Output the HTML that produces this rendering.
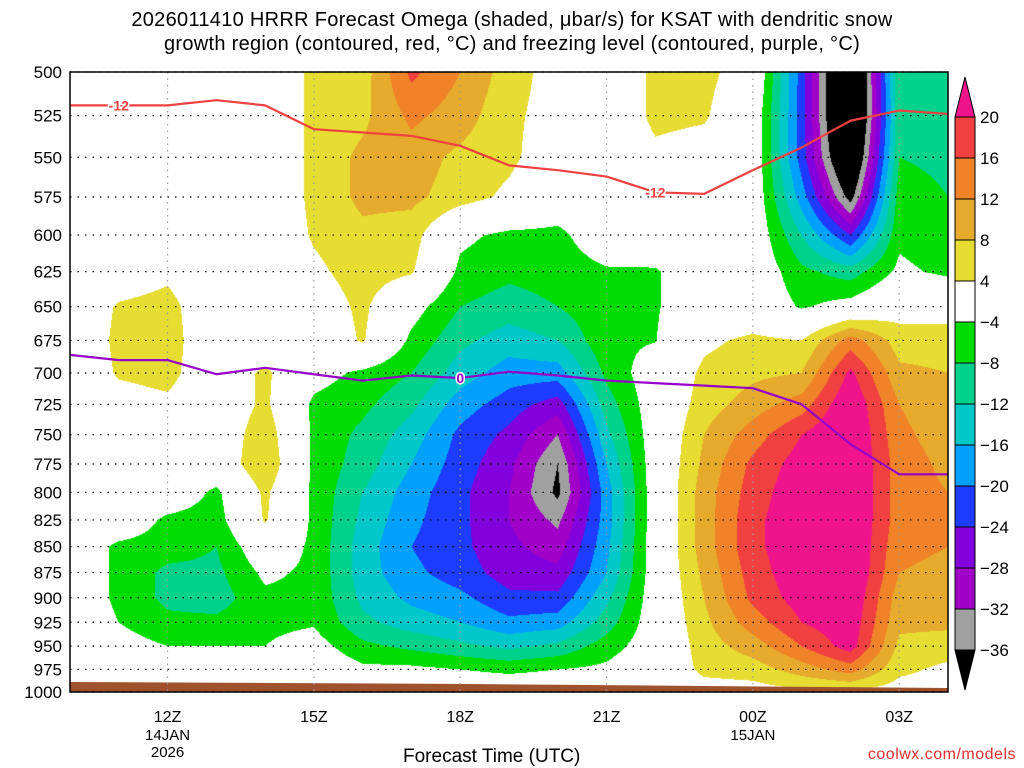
<!DOCTYPE html>
<html><head><meta charset="utf-8">
<style>
body{margin:0;background:#fff;width:1024px;height:768px;overflow:hidden;position:relative;font-family:"Liberation Sans",sans-serif;}
.t{position:absolute;white-space:nowrap;color:#000;}
</style></head>
<body>
<div class="t" style="left:0;width:1024px;text-align:center;top:8px;font-size:20px;line-height:24px;letter-spacing:0.3px">2026011410 HRRR Forecast Omega (shaded, μbar/s) for KSAT with dendritic snow<br>growth region (contoured, red, °C) and freezing level (contoured, purple, °C)</div>
<canvas id="c" width="1024" height="768" style="position:absolute;left:0;top:0"></canvas>
<svg id="s" width="1024" height="768" style="position:absolute;left:0;top:0"></svg>
<script>
const hours=[10,11,12,13,14,15,16,17,18,19,20,21,22,23,24,25,26,27,28];
const timeTicks=[12,15,18,21,24,27];
const timeTickLabels=["12Z","15Z","18Z","21Z","00Z","03Z"];
const pressures=[500,525,550,575,600,625,650,675,700,725,750,775,800,825,850,875,900,925,950,975,1000];
const levels=[-36,-32,-28,-24,-20,-16,-12,-8,-4,4,8,12,16,20];
const levelColors=["#000000","#a0a0a0","#a000c8","#8200dc","#1e3cff","#00a0ff","#00c8c8","#00d28c","#00dc00","#ffffff","#e6dc32","#e6aa2d","#f08228","#f04040","#f0148c"];
const colorbarLabels=["20","16","12","8","4","−4","−8","−12","−16","−20","−24","−28","−32","−36"];
// omega by hour (rows = pressures 500..1000)
const h10=[0,0,0,0,0,0,0,0,0,0,0,0,0,0,0,0,0,0,0,0,0];
const h11=[0,0,0,0,0,1,4.5,5,4.5,2,0,0,0,0,-5,-5,-5,-4,-2,0,0];
const h12=[0,0,0,0,0,3,5.5,6,5.5,3,0,0,0,-5,-6,-9,-9,-7,-4,0,0];
const h13=[0,0,0,0,0,0,0,0,0,0,0,0,-5,-6,-8,-9,-10,-7,-4,0,0];
const h14=[0,0,0,0,0,0,0,0,5,5,7,8,5,4.5,0,-3,-5,-5,-4,0,0];
const h15=[5,5,5,5,4.5,3,1,0,-2,-5,-5,-5,-5,-5,-5,-5,-5,-4.5,-2,0,0];
const h16=[6,7,9,9,7,6,5,4.5,-5,-7,-9,-10,-12,-13,-14,-14,-13,-11,-7,-3,0];
const h17=[17,13,10,9,6,4.5,-2,-5,-8,-11,-14,-16,-18,-19,-20,-19,-17,-14,-9,-3,0];
const h18=[12,10,7,6,-3,-5,-8,-11,-14,-18,-21,-22,-23,-23,-23,-22,-19,-16,-11,-4,0];
const h19=[6,5,5,3,-5,-7,-10,-14,-18,-22,-25,-27,-28,-28,-27,-26,-23,-19,-13,-5,0];
const h20=[2,2,1,-1,-5,-6,-8,-12,-18,-26,-32,-36,-37,-33,-30,-27,-23,-18,-11,-4,0];
const h21=[0,0,0,0,-1,-4.5,-5,-5,-7,-10,-13,-16,-18,-18,-17,-16,-13,-10,-6,-3,0];
const h22=[5,5,3,1,0,-4.5,-4.5,-4.2,-1,-1,-1,-1,-1,-1,-1,-1,-1,-1,-1,0,0];
const h23=[5,4.5,2,0,0,0,0,3,5,6,8,9,10,10,10,9,8,7,6,5,2];
const h00=[2,0,0,0,0,0,0,5,7,10,14,17,18,19,19,18,17,14,10,6,2];
const h01=[-22,-22,-22,-18,-12,-7,-4.5,4,8,14,20,22,23,23,23,23,22,20,16,10,3];
const h02=[-50,-50,-46,-38,-24,-10,-2,14,21,24,25,25,25,25,25,25,24,23,22,14,3];
const h03=[-8,-9,-8,-6,-5,-3,2,6,9,12,13,14,14,14,13,12,10,9,7,5,2];
const h04=[-9,-9,-9,-8,-7,-5,2,6,8,9,10,11,12,12,12,11,10,9,6,3,2];
const omega=[h10,h11,h12,h13,h14,h15,h16,h17,h18,h19,h20,h21,h22,h23,h00,h01,h02,h03,h04];
const snowLine=[519,519,519,516,519,533,535,537,543,555,558,562,572,573,558,544,528,522,524];
const freezeLine=[686,690,690,701,696,701,706,702,704,699,702,706,708,710,712,725,758,784,784];

const X0=70,X1=948,Y0=72,Y1=692;
const xS=h=>X0+(h-hours[0])/(hours[hours.length-1]-hours[0])*(X1-X0);
const yS=p=>Y0+(Y1-Y0)*Math.log(p/500)/Math.log(2);
const invX=x=>hours[0]+(x-X0)/(X1-X0)*(hours[hours.length-1]-hours[0]);
const invY=y=>500*Math.pow(2,(y-Y0)/(Y1-Y0));
function hex(c){return [parseInt(c.substr(1,2),16),parseInt(c.substr(3,2),16),parseInt(c.substr(5,2),16)];}
const rgb=levelColors.map(hex);
function colorIdx(v){let i=0;while(i<levels.length&&v>=levels[i])i++;return i;}
const cv=document.getElementById('c'),ctx=cv.getContext('2d');
const W=X1-X0,H=Y1-Y0,img=ctx.createImageData(W,H);
for(let py=0;py<H;py++){
  const p=invY(Y0+py+0.5);
  let r=0;while(r<pressures.length-2&&p>pressures[r+1])r++;
  const fy=Math.min(1,Math.max(0,(p-pressures[r])/(pressures[r+1]-pressures[r])));
  for(let px=0;px<W;px++){
    const h=invX(X0+px+0.5);
    let c=Math.min(hours.length-2,Math.max(0,Math.floor(h-hours[0])));
    const fx=Math.min(1,Math.max(0,h-hours[c]));
    const v=(omega[c][r]*(1-fx)+omega[c+1][r]*fx)*(1-fy)+(omega[c][r+1]*(1-fx)+omega[c+1][r+1]*fx)*fy;
    const col=rgb[colorIdx(v)],k=(py*W+px)*4;
    img.data[k]=col[0];img.data[k+1]=col[1];img.data[k+2]=col[2];img.data[k+3]=255;
  }
}
ctx.putImageData(img,X0,Y0);
const S=document.getElementById('s'),NS='http://www.w3.org/2000/svg';
function mk(t,a,txt){const e=document.createElementNS(NS,t);for(const k in a)e.setAttribute(k,a[k]);if(txt!==undefined)e.textContent=txt;S.appendChild(e);return e;}
// ground
let g=mk('polygon',{points:`${X0},682 ${X0+400},684 ${X1},688 ${X1},${Y1} ${X0},${Y1}`,fill:'#a0522d'});


// grid
pressures.forEach(p=>{
  const l=mk('line',{x1:X0,x2:X1,y1:yS(p),y2:yS(p),stroke:'#000','stroke-width':1.2,'stroke-dasharray':'1.5 6'});
  
  
  const t=mk('text',{x:62,y:yS(p)+6,'text-anchor':'end','font-size':17,'font-family':'Liberation Sans, sans-serif'},String(p));
  
  
});
timeTicks.forEach((h,i)=>{
  const l=mk('line',{x1:xS(h),x2:xS(h),y1:Y0,y2:Y1,stroke:'#999','stroke-width':1.2,'stroke-dasharray':'1.5 5'});
  
  
  const t=mk('text',{x:xS(h),y:722,'text-anchor':'middle','font-size':16,'font-family':'Liberation Sans, sans-serif'},timeTickLabels[i]);
  
  
});
[[12,740,'14JAN'],[12,757,'2026'],[24,740,'15JAN']].forEach(d=>{
  const t=mk('text',{x:xS(d[0]),y:d[1],'text-anchor':'middle','font-size':15,'font-family':'Liberation Sans, sans-serif'},d[2]);
  
  
});
function line(arr,color,name){
  const pts=arr.map((p,i)=>xS(hours[i])+','+yS(p)).join(' ');
  const e=mk('polyline',{points:pts,fill:'none',stroke:color,'stroke-width':2.2,'stroke-linejoin':'round'});
  
  
}
line(snowLine,'#f04040','dgz-minus12-contour');
line(freezeLine,'#9600c8','freezing-level-contour');
[[11,snowLine[1],'-12','#f04040'],[22,snowLine[12],'-12','#f04040'],[18,freezeLine[8],'0','#9600c8']].forEach(d=>{
  const x=xS(d[0]),y=yS(d[1]);
  const t=mk('text',{x:x,y:y+5,'text-anchor':'middle','font-size':14,'font-weight':'bold',fill:d[3],stroke:'#fff','stroke-width':3,'paint-order':'stroke','font-family':'Liberation Sans, sans-serif'},d[2]);
  
  
});
const fr=mk('rect',{x:X0,y:Y0,width:W,height:H,fill:'none',stroke:'#000','stroke-width':1.5});


// colorbar
const CX=955,CW=20,CT=117,STEP=41;
const n=levelColors.length;
for(let i=n-2;i>=1;i--){
  const y=CT+(n-2-i)*STEP;
  const r=mk('rect',{x:CX,y:y,width:CW,height:STEP,fill:levelColors[i],stroke:'#000','stroke-width':1});
  
  
}
let tr=mk('polygon',{points:`${CX},${CT} ${CX+CW},${CT} ${CX+CW/2},77`,fill:levelColors[n-1],stroke:'#000'});


const CB=CT+(n-2)*STEP;
tr=mk('polygon',{points:`${CX},${CB} ${CX+CW},${CB} ${CX+CW/2},690`,fill:levelColors[0],stroke:'#000'});


colorbarLabels.forEach((s,i)=>{
  const t=mk('text',{x:980,y:CT+i*STEP+6,'font-size':17,'font-family':'Liberation Sans, sans-serif'},s);
  
  
});
</script>
<div class="t" style="left:403px;top:746px;font-size:19px">Forecast Time (UTC)</div>
<div class="t" style="right:8px;top:746px;font-size:16px;color:#e03030;letter-spacing:0.5px">coolwx.com/models</div>
</body></html>
